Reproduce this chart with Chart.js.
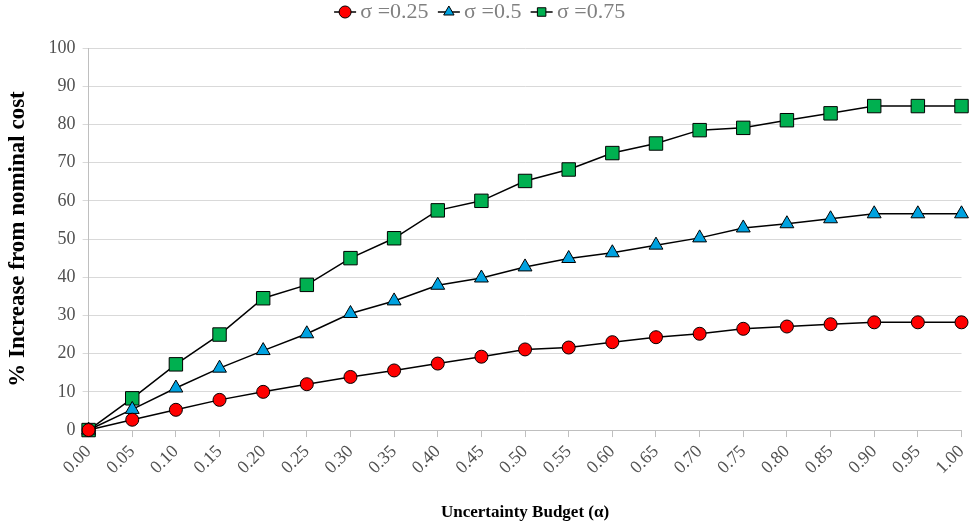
<!DOCTYPE html>
<html>
<head>
<meta charset="utf-8">
<script src="https://cdn.jsdelivr.net/npm/chart.js@4/dist/chart.umd.min.js"></script>
<style>
html,body{margin:0;padding:0;background:#fff}
#wrap{width:972px;height:527px}
</style>
</head>
<body>
<div id="wrap"><canvas id="costChart"></canvas></div>
<script>
// ===== DATA =====
const alphaLabels = ["0.00","0.05","0.10","0.15","0.20","0.25","0.30","0.35","0.40","0.45","0.50",
"0.55","0.60","0.65","0.70","0.75","0.80","0.85","0.90","0.95","1.00"]

const sigma025 = [0,2.7,5.3,7.9,10,12,13.9,15.6,17.4,19.2,21.1,21.6,23,24.3,25.2,26.5,27.1,27.7,28.2,28.2,28.2]
const sigma050 = [0,5.4,11,16.2,20.8,25.2,30.5,33.8,37.9,39.8,42.7,44.9,46.4,48.4,50.3,52.9,54,55.3,56.6,56.6,56.6]
const sigma075 = [0,8.3,17.2,25,34.5,38,45,50.2,57.5,60,65.2,68.2,72.5,75,78.5,79.1,81.1,82.9,84.8,84.8,84.8]

const seriesNames = ["σ =0.25","σ =0.5","σ =0.75"]

const serif = "'Liberation Serif','DejaVu Serif',serif"
const LEG_BOX = 8.5

function makeSet(name,data,color,style,radius){
return {
label:name,
data:data,
borderColor:"#000",
borderWidth:1.5,
backgroundColor:color,
pointBackgroundColor:color,
pointBorderColor:"#000",
pointBorderWidth:1,
pointStyle:style,
pointRadius:radius,
pointHoverRadius:radius,
tension:0,
clip:false
}
}

// short black line behind each legend marker (drawn before the legend)
const legendLines = {
id:"legendLines",
beforeInit(chart){
// extra room under the legend
const fit = chart.legend.fit
chart.legend.fit = function(){
fit.call(chart.legend)
this.height += 15
}
},
beforeDraw(chart){
const lg = chart.legend
if(!lg || !lg.legendHitBoxes) return
const ctx = chart.ctx
ctx.save()
ctx.strokeStyle = "#000"
ctx.lineWidth = 1.5
lg.legendHitBoxes.forEach(b=>{
const cx = b.left + LEG_BOX/2
const cy = b.top + b.height/2
ctx.beginPath()
ctx.moveTo(cx-11,cy)
ctx.lineTo(cx+11,cy)
ctx.stroke()
})
ctx.restore()
}
}

const ctx = document.getElementById("costChart")

new Chart(ctx,{
type:"line",
data:{
labels:alphaLabels,
datasets:[
makeSet(seriesNames[0],sigma025,"#ff0000","circle",6.5),
makeSet(seriesNames[1],sigma050,"#00a2e0","triangle",8),
makeSet(seriesNames[2],sigma075,"#00b050","rect",9.5)
]
},
options:{
responsive:true,
maintainAspectRatio:false,
animation:false,
layout:{padding:{left:4,right:10,top:-15,bottom:4}},
plugins:{
legend:{
position:"top",
labels:{
usePointStyle:true,
boxWidth:LEG_BOX,
boxHeight:LEG_BOX,
padding:16,
color:"#808080",
font:{family:serif,size:22}
}
},
tooltip:{enabled:false}
},
scales:{
x:{
offset:false,
afterFit(scale){ scale.paddingRight = 0 },
grid:{display:true,drawOnChartArea:false,color:"#bfbfbf",tickLength:7},
border:{color:"#bfbfbf"},
ticks:{
maxRotation:45,minRotation:45,autoSkip:false,
color:"#505050",
padding:4,
font:{family:serif,size:18}
},
title:{
display:true,
text:"Uncertainty Budget (α)",
color:"#000",
font:{family:serif,size:17,weight:"bold"},
padding:{top:20,bottom:0}
}
},
y:{
min:0,max:100,
ticks:{stepSize:10,color:"#505050",font:{family:serif,size:18},padding:7},
grid:{color:"#d9d9d9",tickLength:6},
border:{color:"#bfbfbf"},
title:{
display:true,
text:"% Increase from nominal cost",
color:"#000",
font:{family:serif,size:23,weight:"bold"},
padding:{top:0,bottom:10}
}
}
}
},
plugins:[legendLines]
})
</script>
</body>
</html>
